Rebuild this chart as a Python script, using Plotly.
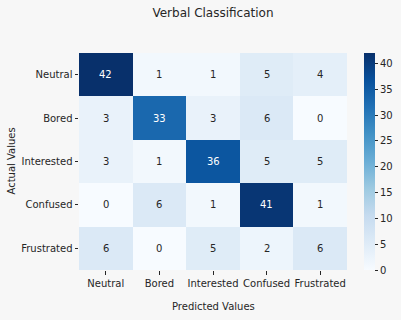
import plotly.graph_objects as go
import plotly.express as px

labels = ["Neutral", "Bored", "Interested", "Confused", "Frustrated"]
row_neutral = [42, 1, 1, 5, 4]
row_bored = [3, 33, 3, 6, 0]
row_interested = [3, 1, 36, 5, 5]
row_confused = [0, 6, 1, 41, 1]
row_frustrated = [6, 0, 5, 2, 6]
matrix = [row_neutral, row_bored, row_interested, row_confused, row_frustrated]
cbar_ticks = [0, 5, 10, 15, 20, 25, 30, 35, 40]

vmax = max(max(r) for r in matrix)
blues = px.colors.sequential.Blues
scale = [[i / (len(blues) - 1), c] for i, c in enumerate(blues)]

fig = go.Figure(go.Heatmap(
    z=matrix, x=labels, y=labels, colorscale=scale, zmin=0, zmax=vmax,
    xgap=0, ygap=0, hoverinfo="skip",
    colorbar=dict(thickness=11, len=1, lenmode="fraction", x=1.063, xanchor="left",
                  y=0.5, yanchor="middle", outlinewidth=0, xpad=0, ypad=0,
                  tickvals=cbar_ticks, ticks="outside", ticklen=3.5, tickwidth=1,
                  tickcolor="#262626", tickfont=dict(size=10, color="#262626")),
))

for i, row in enumerate(matrix):
    for j, v in enumerate(row):
        fig.add_annotation(x=labels[j], y=labels[i], text=str(v), showarrow=False,
                           font=dict(size=10, color="white" if v > 0.55 * vmax else "#262626"))

# axis titles
fig.add_annotation(text="Actual Values", xref="paper", yref="paper", x=-(79 - 11) / 268, y=0.5,
                   xanchor="center", yanchor="middle", textangle=-90, showarrow=False,
                   font=dict(size=10, color="#262626"))
fig.add_annotation(text="Predicted Values", xref="paper", yref="paper", x=0.5, y=-(306 - 270) / 217,
                   xanchor="center", yanchor="middle", showarrow=False,
                   font=dict(size=10, color="#262626"))

fig.update_layout(
    width=401, height=320,
    margin=dict(l=79, r=54, t=53, b=50, autoexpand=False),
    paper_bgcolor="#f7f7f7", plot_bgcolor="#f7f7f7",
    font=dict(family="DejaVu Sans", size=10, color="#262626"),
    title=dict(text="Verbal Classification", x=(79 + 347) / 2 / 401, xanchor="center",
               xref="container",
               y=1 - 13 / 320, yanchor="middle", font=dict(size=12, color="#262626")),
    xaxis=dict(tickangle=0, automargin=False,
               ticks="outside", ticklen=3.5, tickcolor="#262626", showgrid=False,
               zeroline=False, showline=False),
    yaxis=dict(automargin=False,
               autorange="reversed", ticks="outside", ticklen=3.5, tickcolor="#262626",
               showgrid=False, zeroline=False, showline=False),
)

fig.write_html("out.html", config={"displayModeBar": False},
               post_script="document.body.style.margin='0';")
